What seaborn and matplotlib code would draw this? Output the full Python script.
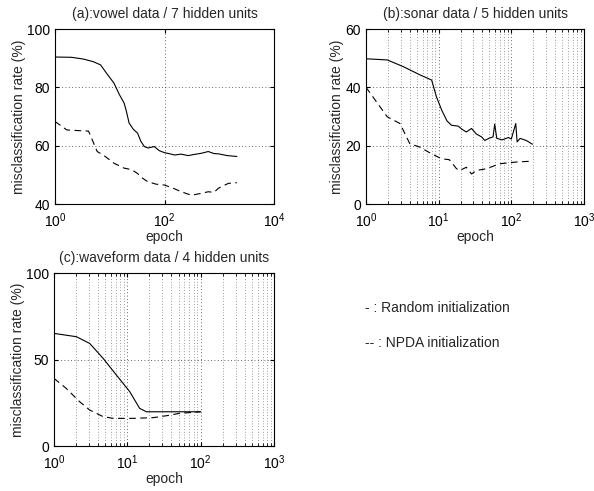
import numpy as np
import pandas as pd
import seaborn as sns
import matplotlib.pyplot as plt
from matplotlib.ticker import LogLocator, NullFormatter

# (a) vowel data
a_rand_ep = [1, 2, 3.3, 5, 6.8, 9, 11.9, 15, 18.3, 20, 22.6, 27, 32.2, 37, 42.7, 50, 65, 80, 100,
             120, 153, 200, 270, 350, 473, 630, 800, 966, 1400, 2100]
a_rand_val = [90.4, 90.3, 89.7, 88.8, 87.7, 84.5, 81.5, 77.5, 74.6, 72.0, 67.7, 65.6, 64.3, 61.5, 59.7,
              59.2, 59.7, 58.3, 57.6, 57.3, 56.8, 57.1, 56.6, 57.0, 57.4, 58.0, 57.3, 57.2, 56.6, 56.3]
a_npda_ep = [1, 1.64, 2.5, 4.1, 5.9, 8, 11.9, 18.3, 25, 32, 40, 49, 70, 100, 140, 203, 310, 450, 630,
             800, 966, 1200, 1480, 2100]
a_npda_val = [68.3, 65.4, 65.2, 65.0, 58.0, 56.5, 54.0, 52.3, 51.8, 50.5, 48.8, 47.7, 46.8, 46.5, 45.5,
              44.2, 43.0, 43.6, 44.2, 44.0, 45.4, 46.3, 47.1, 47.3]

# (b) sonar data
b_rand_ep = [1, 1.96, 3.26, 5.5, 8, 9.3, 11, 13, 15, 18.6, 21, 24, 28.3, 33, 39, 43, 50, 56, 59, 63,
             75, 91, 100, 115, 120, 132, 160, 195]
b_rand_val = [49.8, 49.4, 47.1, 44.3, 42.5, 36.8, 32.2, 28.5, 27.0, 26.7, 25.6, 24.7, 25.9, 24.0, 23.0,
              21.8, 22.6, 23.0, 27.4, 22.5, 22.0, 22.8, 22.3, 27.6, 21.3, 22.5, 21.8, 20.5]
b_npda_ep = [1, 1.96, 2.93, 4, 5.5, 8, 11, 14, 17.6, 19.6, 24, 28.3, 33, 45.6, 69, 117, 195]
b_npda_val = [40.0, 29.9, 27.6, 20.7, 19.5, 17.2, 15.5, 15.2, 12.1, 11.5, 12.6, 10.3, 11.5, 12.1, 13.8,
              14.4, 14.7]

# (c) waveform data
c_rand_ep = [1, 2.02, 3.07, 4.67, 7.1, 10.8, 14.7, 18.2, 27.8, 42, 100]
c_rand_val = [65.1, 63.2, 59.3, 50.7, 41.0, 31.4, 21.8, 19.8, 19.8, 19.8, 19.8]
c_npda_ep = [1, 1.47, 2.24, 3.07, 4.67, 6.4, 12, 22.5, 34, 52, 100]
c_npda_val = [39.1, 33.3, 25.6, 20.8, 17.0, 16.0, 16.0, 16.4, 17.5, 18.9, 19.8]

titles = ["(a):vowel data / 7 hidden units",
          "(b):sonar data / 5 hidden units",
          "(c):waveform data / 4 hidden units"]

sns.set_style("ticks")
plt.rcParams['font.family'] = ['Liberation Sans', 'DejaVu Sans']
plt.rcParams['mathtext.fontset'] = 'custom'
plt.rcParams['mathtext.rm'] = 'Liberation Sans'
plt.rcParams['mathtext.it'] = 'Liberation Sans'

fig = plt.figure(figsize=(5.94, 4.91), dpi=100)

panels = [
    dict(rect=[0.0926, 0.5845, 0.3687, 0.3564], xlim=(1, 1e4), ylim=(40, 100), yt=[40, 60, 80, 100],
         xt=[1, 1e2, 1e4], minor=False,
         r=(a_rand_ep, a_rand_val), n=(a_npda_ep, a_npda_val)),
    dict(rect=[0.6162, 0.5845, 0.3670, 0.3564], xlim=(1, 1e3), ylim=(0, 60), yt=[0, 20, 40, 60],
         xt=[1, 10, 100, 1000], minor=True,
         r=(b_rand_ep, b_rand_val), n=(b_npda_ep, b_npda_val)),
    dict(rect=[0.0909, 0.0916, 0.3704, 0.3523], xlim=(1, 1e3), ylim=(0, 100), yt=[0, 50, 100],
         xt=[1, 10, 100, 1000], minor=True,
         r=(c_rand_ep, c_rand_val), n=(c_npda_ep, c_npda_val)),
]

for p, title in zip(panels, titles):
    ax = fig.add_axes(p['rect'])
    df_r = pd.DataFrame({'epoch': p['r'][0], 'rate': p['r'][1]})
    df_n = pd.DataFrame({'epoch': p['n'][0], 'rate': p['n'][1]})
    sns.lineplot(data=df_r, x='epoch', y='rate', ax=ax, color='black', lw=0.8, estimator=None)
    sns.lineplot(data=df_n, x='epoch', y='rate', ax=ax, color='black', lw=0.8, estimator=None)
    ax.lines[-1].set_dashes([6, 4])
    ax.set_xscale('log')
    ax.set_xlim(*p['xlim'])
    ax.set_ylim(*p['ylim'])
    ax.set_xticks(p['xt'])
    ax.set_yticks(p['yt'])
    if p['minor']:
        ax.xaxis.set_minor_locator(LogLocator(base=10, subs=np.arange(2, 10)))
        ax.xaxis.set_minor_formatter(NullFormatter())
        ax.grid(True, which='minor', axis='x', ls=(0, (1, 3)), color='#444444', lw=0.5)
    else:
        ax.xaxis.set_minor_locator(plt.NullLocator())
    ax.grid(True, which='major', ls=(0, (1, 3)), color='#333333', lw=0.6)
    for s in ax.spines.values():
        s.set_visible(True)
        s.set_linewidth(0.8)
        s.set_color('black')
    ax.tick_params(direction='in', which='both', top=True, right=True, labelsize=10, length=3,
                   colors='black')
    ax.tick_params(axis='x', which='major', pad=5)
    ax.tick_params(which='minor', length=2)
    ax.set_title(title, fontsize=10, pad=8)
    ax.set_xlabel('epoch', fontsize=10, labelpad=0)
    ax.set_ylabel('misclassification rate (%)', fontsize=10, labelpad=1)

fig.text(0.6145, 0.3727, '- : Random initialization', fontsize=10, va='center')
fig.text(0.6145, 0.3014, '-- : NPDA initialization', fontsize=10, va='center')

fig.savefig('out.png', dpi=100)
